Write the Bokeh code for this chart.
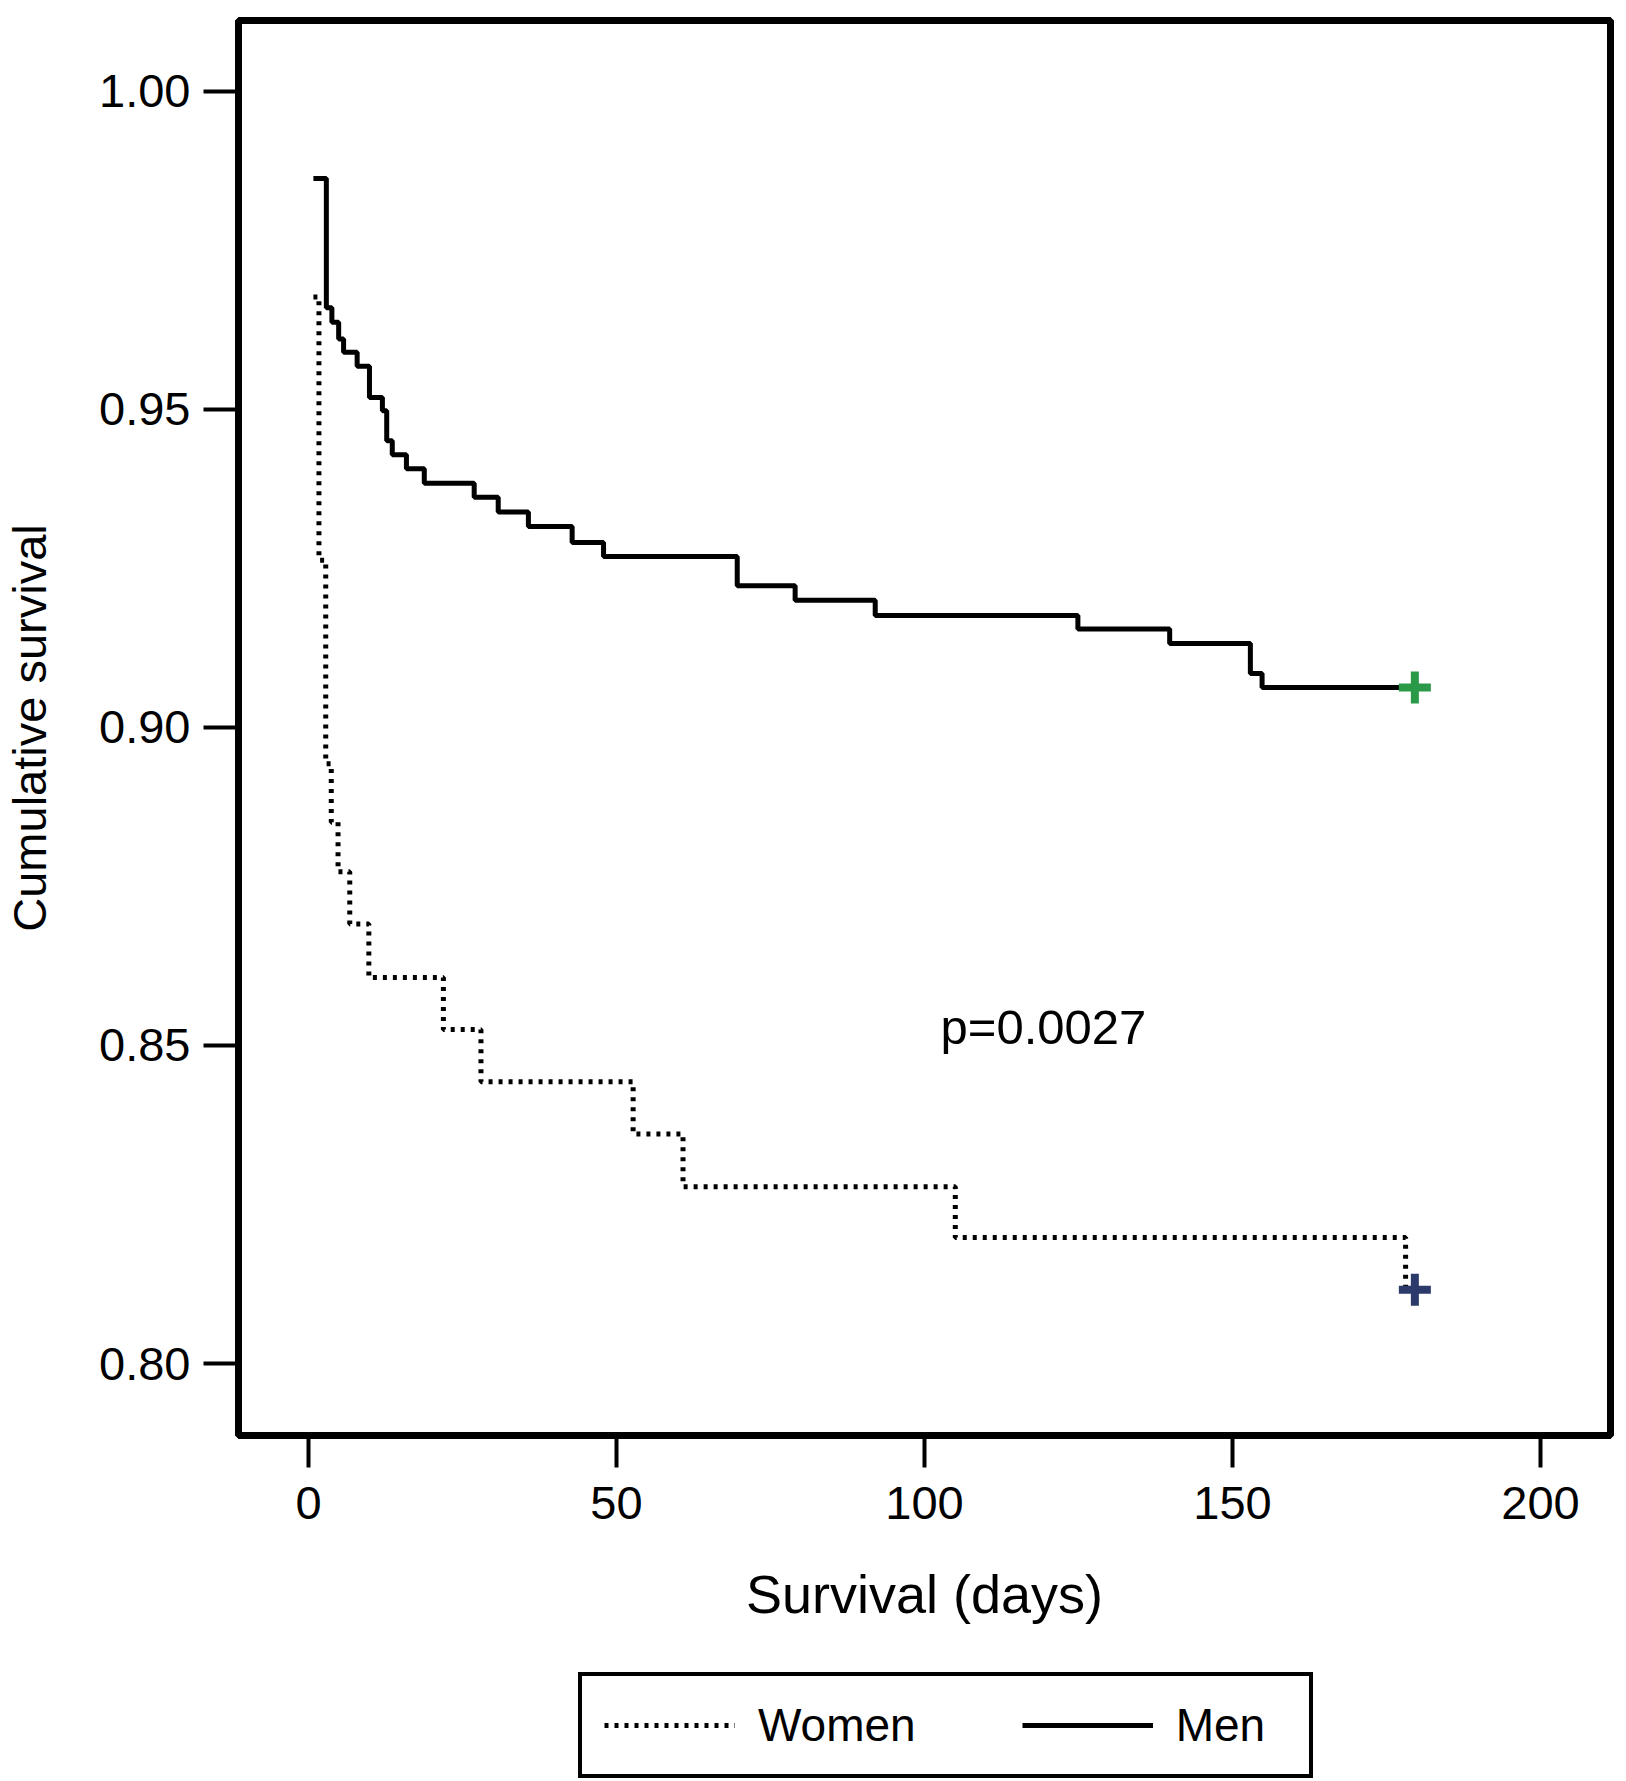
from bokeh.plotting import figure
from bokeh.layouts import column
from bokeh.models import Range1d, Legend, LegendItem, FixedTicker, PrintfTickFormatter
from bokeh.embed import file_html
from bokeh.resources import INLINE
from bokeh.core.properties import value

# ---- data ----
men_days = [0.8, 2.9, 3.8, 4.9, 5.7, 7.9, 9.9, 12.0, 12.7, 13.6, 15.9, 18.8, 26.9, 30.8,
            35.7, 42.8, 47.9, 69.6, 79.0, 92.0, 124.9, 139.8, 152.9, 154.8, 180]
men_surv = [0.9863, 0.9660, 0.9637, 0.9611, 0.9590, 0.9568, 0.9519, 0.9498, 0.9451,
            0.9429, 0.9407, 0.9384, 0.9362, 0.9339, 0.9316, 0.9291, 0.9269, 0.9223,
            0.9200, 0.9176, 0.9155, 0.9132, 0.9085, 0.9063, 0.9063]
women_days = [0.8, 1.7, 2.8, 3.7, 4.8, 6.7, 9.8, 21.9, 28.0, 52.7, 60.8, 105.0, 178.1, 180]
women_surv = [0.9677, 0.9263, 0.8943, 0.8851, 0.8773, 0.8691, 0.8607, 0.8525, 0.8443,
              0.8361, 0.8278, 0.8198, 0.8116, 0.8116]
censor_days = [179.6]
men_censor = [0.9063]
women_censor = [0.8116]
x_ticks = [0, 50, 100, 150, 200]
y_ticks = [0.80, 0.85, 0.90, 0.95, 1.00]
p_label = "p=0.0027"
p_label_pos = (102.6, 0.8529)

FONT = "Liberation Sans"
WOMEN_STYLE = dict(line_color="black", line_width=5, line_dash="4 6")
MEN_STYLE = dict(line_color="black", line_width=5)

p = figure(frame_width=1372, frame_height=1415,
           min_border_left=238, min_border_right=14, min_border_top=20, min_border_bottom=235,
           x_range=Range1d(-11.36, 211.36), y_range=Range1d(0.78868, 1.01116),
           output_backend="svg", toolbar_location=None)
p.xgrid.visible = False
p.ygrid.visible = False
p.outline_line_color = "black"
p.outline_line_width = 7
p.background_fill_color = "white"
p.border_fill_color = "white"

for ax in (p.xaxis[0], p.yaxis[0]):
    ax.axis_line_color = None
    ax.major_tick_in = 0
    ax.minor_tick_line_color = None
    ax.major_tick_line_width = 4
    ax.major_tick_line_color = "black"
    ax.major_label_text_font = FONT
    ax.major_label_text_font_size = "47px"
    ax.major_label_text_color = "black"
    ax.axis_label_text_font = FONT
    ax.axis_label_text_font_style = "normal"
    ax.axis_label_text_color = "black"

p.xaxis.ticker = FixedTicker(ticks=x_ticks)
p.yaxis.ticker = FixedTicker(ticks=y_ticks)
p.yaxis.formatter = PrintfTickFormatter(format="%.2f")
p.xaxis.major_tick_out = 32
p.yaxis.major_tick_out = 35
p.xaxis.major_label_standoff = 19
p.yaxis.major_label_standoff = 13
p.xaxis.axis_label = "Survival (days)"
p.yaxis.axis_label = "Cumulative survival"
p.xaxis.axis_label_text_font_size = "54px"
p.yaxis.axis_label_text_font_size = "47px"
p.xaxis.axis_label_standoff = 42
p.yaxis.axis_label_standoff = 40

p.step(women_days, women_surv, mode="after", **WOMEN_STYLE)
p.step(men_days, men_surv, mode="after", **MEN_STYLE)

p.scatter(censor_days, men_censor, marker="cross", size=32, line_width=8,
          line_color="#2a9a48")
p.scatter(censor_days, women_censor, marker="cross", size=32, line_width=8,
          line_color="#2b3a6b")

p.text(x=[p_label_pos[0]], y=[p_label_pos[1]], text=[p_label],
       text_font=value(FONT), text_font_size=value("49px"),
       text_baseline="alphabetic", text_align="left", text_color="black")

# ---- legend panel below the chart (series drawn out of view, only the key shows) ----
lg = figure(width=1624, height=111, min_border=0, x_range=Range1d(0, 200),
            y_range=Range1d(10, 11),
            x_axis_location=None, y_axis_location=None,
            output_backend="svg", toolbar_location=None)
lg.xgrid.visible = False
lg.ygrid.visible = False
lg.outline_line_color = None
lg.background_fill_color = "white"
lg.border_fill_color = "white"
lw = lg.step(women_days, women_surv, mode="after", **WOMEN_STYLE)
lm = lg.step(men_days, men_surv, mode="after", **MEN_STYLE)

legend = Legend(items=[LegendItem(label="Women", renderers=[lw]),
                       LegendItem(label="Men", renderers=[lm])],
                orientation="horizontal", location=(340, 3),
                border_line_color="black", border_line_width=4, border_line_alpha=1.0,
                padding=22, spacing=106, glyph_width=131, glyph_height=40,
                label_standoff=23, label_width=111, margin=0,
                label_text_font=FONT, label_text_font_size="46px",
                label_text_color="black",
                background_fill_color="white", background_fill_alpha=1.0)
lg.add_layout(legend)

layout = column(p, lg, spacing=0)
open("out.html", "w").write(file_html(layout, INLINE))
